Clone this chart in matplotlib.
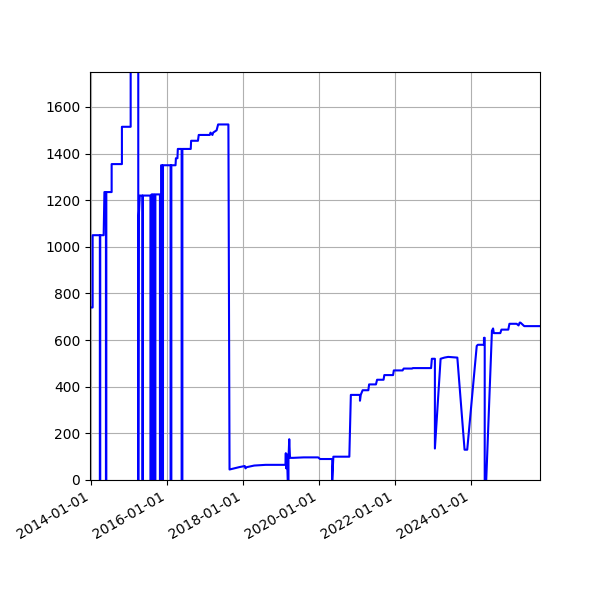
import numpy as np
import pandas as pd
import matplotlib
matplotlib.use("Agg")
import matplotlib.pyplot as plt
import matplotlib.dates as mdates

# decimal-year time stamps and values
years = [2014.00, 2014.05, 2014.05, 2014.24, 2014.24, 2014.25, 2014.25, 2014.34, 2014.36, 2014.40,
         2014.40, 2014.41, 2014.41, 2014.55, 2014.55, 2014.82, 2014.82, 2015.05, 2015.05,
         2015.25, 2015.25, 2015.26, 2015.29, 2015.33, 2015.36, 2015.36, 2015.37, 2015.37, 2015.57,
         2015.57, 2015.60, 2015.60, 2015.62, 2015.62, 2015.65, 2015.65, 2015.67, 2015.67, 2015.70,
         2015.70, 2015.82, 2015.82, 2015.85, 2015.85, 2015.88, 2015.88, 2015.90, 2015.90, 2015.93,
         2015.93, 2016.10, 2016.10, 2016.12, 2016.12, 2016.23, 2016.24, 2016.28, 2016.29, 2016.39,
         2016.39, 2016.41, 2016.41, 2016.63, 2016.64, 2016.82, 2016.84, 2017.13, 2017.15, 2017.20,
         2017.22, 2017.31, 2017.35, 2017.62, 2017.65, 2017.90, 2018.05, 2018.07, 2018.10, 2018.30,
         2018.60, 2019.12, 2019.13, 2019.14, 2019.16, 2019.18, 2019.20, 2019.20, 2019.22, 2019.24,
         2019.30, 2019.30, 2019.32, 2019.60, 2019.98, 2020.03, 2020.35, 2020.35, 2020.38, 2020.80,
         2020.84, 2020.87, 2021.08, 2021.08, 2021.10, 2021.15, 2021.30, 2021.32, 2021.50, 2021.53,
         2021.70, 2021.72, 2021.95, 2021.97, 2022.20, 2022.23, 2022.45, 2022.47, 2022.95, 2022.97,
         2023.04, 2023.05, 2023.05, 2023.20, 2023.30, 2023.40, 2023.62, 2023.64, 2023.83, 2023.90,
         2024.15, 2024.18, 2024.34, 2024.34, 2024.36, 2024.36, 2024.40, 2024.55, 2024.58, 2024.60,
         2024.77, 2024.80, 2024.98, 2025.01, 2025.20, 2025.25, 2025.28, 2025.30, 2025.40, 2025.43,
         2025.82]
values = [740, 740, 1050, 1050, 0, 0, 1050, 1050, 1235, 1235,
          0, 0, 1235, 1235, 1355, 1355, 1515, 1515, 1800,
          1800, 0, 1120, 1220, 1220, 1220, 0, 0, 1220, 1220,
          0, 0, 1225, 1225, 0, 0, 1225, 1225, 0, 0,
          1225, 1225, 0, 0, 1350, 1350, 0, 0, 1350, 1350,
          1350, 1350, 0, 0, 1350, 1350, 1380, 1380, 1420, 1420,
          0, 0, 1420, 1420, 1455, 1455, 1480, 1480, 1490, 1480,
          1490, 1500, 1525, 1525, 45, 55, 60, 50, 55, 62,
          65, 65, 115, 50, 110, 0, 0, 90, 175, 95,
          95, 95, 95, 97, 97, 90, 90, 0, 100, 100,
          365, 365, 365, 340, 365, 385, 385, 410, 410, 430,
          430, 450, 450, 470, 470, 478, 478, 480, 480, 520,
          520, 520, 135, 520, 525, 528, 525, 525, 130, 130,
          575, 580, 580, 610, 610, 0, 0, 640, 650, 630,
          630, 645, 645, 670, 670, 663, 675, 675, 660, 660,
          660]

start = pd.Timestamp("2014-01-01")
dates = [start + pd.Timedelta(days=(y - 2014) * 365.25) for y in years]

fig, ax = plt.subplots(figsize=(6, 6), dpi=100)
fig.subplots_adjust(left=0.15, right=0.9, top=0.88, bottom=0.2)
ax.plot(dates, values, color="blue")
ax.set_ylim(0, 1750)
ax.set_xlim(pd.Timestamp("2013-12-25"), pd.Timestamp("2025-10-25"))
ax.xaxis.set_major_locator(mdates.YearLocator(2))
ax.xaxis.set_major_formatter(mdates.DateFormatter("%Y-%m-%d"))
ax.grid(True)
fig.autofmt_xdate()
fig.savefig("out.png")
